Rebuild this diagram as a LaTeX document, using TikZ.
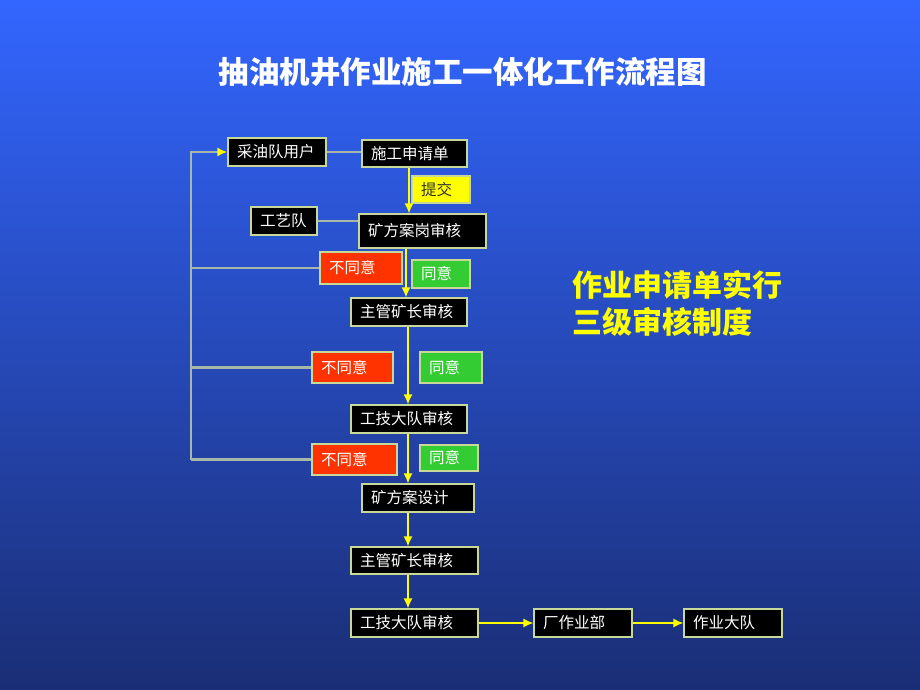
\documentclass[tikz,border=0pt]{standalone}
\usepackage{fontspec}
\setmainfont{Noto Sans CJK SC}
\usetikzlibrary{arrows.meta}
\definecolor{bgtop}{HTML}{3366FF}
\definecolor{bgmid}{HTML}{2A52D4}
\definecolor{bgbot}{HTML}{1A2E75}
\definecolor{bordc}{HTML}{C8D898}
\definecolor{redbox}{HTML}{FF3300}
\definecolor{greenbox}{HTML}{33CC33}
\definecolor{yelbox}{HTML}{FFFF00}
\definecolor{greyline}{HTML}{A8B8A8}
\definecolor{arrowy}{HTML}{FFFF00}
\tikzset{
  boxbase/.style={draw=bordc, line width=1.2pt, inner xsep=9pt, inner ysep=0pt, align=left,
    font=\fontsize{15.5}{18}\selectfont, anchor=center},
  blk/.style={boxbase, fill=black, text=white},
  redb/.style={boxbase, fill=redbox, text=white},
  grnb/.style={boxbase, fill=greenbox, text=white},
  yelb/.style={boxbase, fill=yelbox, text=black!80},
  yarrow/.style={draw=arrowy, line width=1.4pt, -{Latex[length=10pt,width=9pt]}},
  gline/.style={draw=greyline, line width=2.2pt},
}
\begin{document}
\begin{tikzpicture}[x=1pt,y=-1pt]
\shade[top color=bgtop, middle color=bgmid, bottom color=bgbot] (0,0) rectangle (920,690);
\useasboundingbox (0,0) rectangle (920,690);

\node[font=\fontsize{30.5}{34}\selectfont\bfseries, text=white] (title) at (462.5,71.5) {抽油机井作业施工一体化工作流程图};
\node[font=\fontsize{30}{37}\selectfont\bfseries, text=yelbox, anchor=west, align=left] (note) at (569,303.5) {作业申请单实行\\三级审核制度};

\node[blk, minimum width=98, minimum height=28, text width=80] (yh) at (277,152) {采油队用户};
\node[blk, minimum width=105, minimum height=27, text width=87] (sq) at (414.5,153.5) {施工申请单};
\node[yelb, minimum width=58, minimum height=27, text width=40] (tj) at (441,189.5) {提交};
\node[blk, minimum width=66, minimum height=28, text width=48] (gy) at (284,221) {工艺队};
\node[blk, minimum width=127, minimum height=34, text width=109] (fa) at (422.5,231) {矿方案岗审核};
\node[redb, minimum width=82, minimum height=32, text width=64] (bt1) at (361,268) {不同意};
\node[grnb, minimum width=58, minimum height=28, text width=40] (ty1) at (441,274) {同意};
\node[blk, minimum width=116, minimum height=28, text width=98] (zg1) at (409,312) {主管矿长审核};
\node[redb, minimum width=81, minimum height=31, text width=63] (bt2) at (352.5,367.5) {不同意};
\node[grnb, minimum width=62, minimum height=31, text width=44] (ty2) at (451,367.5) {同意};
\node[blk, minimum width=116, minimum height=28, text width=98] (gj1) at (409,419) {工技大队审核};
\node[redb, minimum width=85, minimum height=31, text width=67] (bt3) at (354.5,459.5) {不同意};
\node[grnb, minimum width=58, minimum height=26, text width=40] (ty3) at (449,458) {同意};
\node[blk, minimum width=112, minimum height=28, text width=94] (ks) at (418,498) {矿方案设计};
\node[blk, minimum width=127, minimum height=27, text width=109] (zg2) at (414.5,560.5) {主管矿长审核};
\node[blk, minimum width=127, minimum height=28, text width=109] (gj2) at (414.5,623) {工技大队审核};
\node[blk, minimum width=98, minimum height=28, text width=80] (cz) at (583,623) {厂作业部};
\node[blk, minimum width=98, minimum height=28, text width=80] (zd) at (733,623) {作业大队};

\coordinate (lc) at (191,459.5);

% grey links
\draw[gline] (yh.east) -- (sq.west |- yh.east);
\draw[gline] (gy.east) -- (fa.west |- gy.east);
\draw[gline] (bt1.west) -- (lc |- bt1.west);
\draw[gline] (bt2.west) -- (lc |- bt2.west);
\draw[gline] (bt3.west) -- (lc);
\draw[gline, -{Latex[length=10pt,width=9pt,color=arrowy]}] (lc) -- (lc |- yh.west) -- (yh.west);

% yellow arrows down the spine
\draw[yarrow] (sq.south -| zg1.south) -- (fa.north -| zg1.north);
\draw[yarrow] ([xshift=-3pt]fa.south -| zg1.south) -- ([xshift=-3pt]zg1.north);
\draw[yarrow] ([xshift=-1pt]zg1.south) -- ([xshift=-1pt]gj1.north);
\draw[yarrow] ([xshift=-1pt]gj1.south) -- ([xshift=-1pt]gj1.south |- ks.north);
\draw[yarrow] ([xshift=-1pt]ks.south -| gj1.south) -- ([xshift=-1pt]zg2.north -| gj1.south);
\draw[yarrow] ([xshift=-1pt]zg2.south -| gj1.south) -- ([xshift=-1pt]gj2.north -| gj1.south);
\draw[yarrow] (gj2.east) -- (cz.west);
\draw[yarrow] (cz.east) -- (zd.west);
\end{tikzpicture}
\end{document}
